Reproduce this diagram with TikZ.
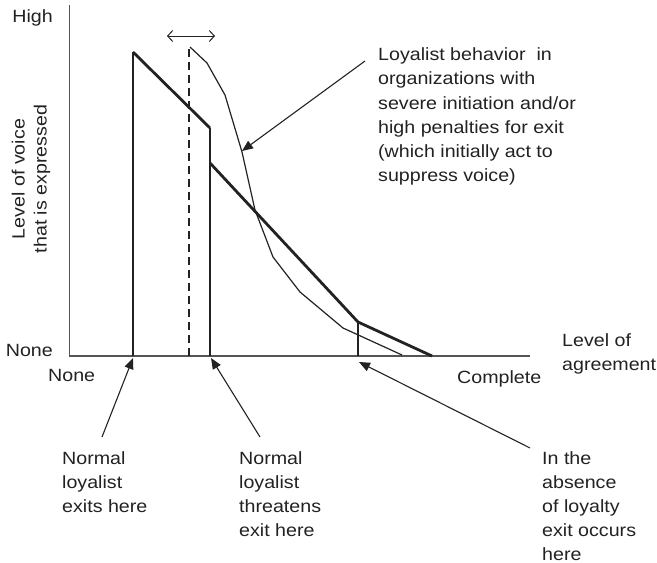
\documentclass[tikz,border=0pt]{standalone}
\usepackage{fontspec}
\setmainfont[FakeStretch=1.11]{Liberation Sans}
\usetikzlibrary{arrows.meta}
\definecolor{ink}{HTML}{222222}
\definecolor{axisgray}{HTML}{555555}
\begin{document}
\begin{tikzpicture}[x=1pt,y=-1pt,
  lbl/.style={font=\fontsize{17.7}{24.1}\selectfont, text=ink, inner sep=0pt, align=left},
  axisline/.style={draw=axisgray, line width=1.5pt},
  thickline/.style={draw=ink, line width=2.8pt, line join=miter},
  vline/.style={draw=ink, line width=2pt},
  thinline/.style={draw=ink, line width=1.2pt, line join=round},
  pointer/.style={draw=ink, line width=1.1pt, -{Triangle[length=11pt,width=9pt]}},
  dashline/.style={draw=ink, line width=1.8pt, dash pattern=on 8pt off 5pt},
  span/.style={draw=ink, line width=1pt, {Straight Barb[length=5pt,width=11pt]}-{Straight Barb[length=5pt,width=11pt]}},
]
\useasboundingbox (0,0) rectangle (657,563);

% axes
\coordinate (O) at (69.5,356);
\coordinate (Ytop) at (69.5,5);
\coordinate (Xend) at (530,356);
\draw[axisline] (Ytop) -- (O) -- (Xend);

% normal loyalist line
\coordinate (A0) at (133,356);
\coordinate (A) at (133,52);
\coordinate (B) at (210,128);
\coordinate (B0) at (210,356);
\coordinate (C) at (210,163);
\coordinate (D) at (358,322);
\coordinate (D0) at (358,356);
\coordinate (E) at (432,356);
\draw[vline] (A0) -- (A);
\draw[thickline] (A) -- (B);
\draw[vline] (B) -- (B0);
\draw[thickline] (C) -- (D) -- (E);
\draw[thinline, line width=1.6pt] (D) -- (D0);

% dashed line and span arrow
\coordinate (F0) at (189,356);
\coordinate (F) at (189,46);
\draw[dashline] (F0) -- (F);
\coordinate (SL) at (167,36);
\coordinate (SR) at (215,36);
\draw[span] (SL) -- (SR);

% severe-initiation curve
\coordinate (c1) at (190,47);
\coordinate (c2) at (207,63);
\coordinate (c3) at (225,95);
\coordinate (c4) at (242,152);
\coordinate (c5) at (255,210);
\coordinate (c6) at (273,257);
\coordinate (c7) at (300,292);
\coordinate (c8) at (343,328);
\coordinate (c9) at (402,355);
\draw[thinline] (c1) -- (c2) -- (c3) -- (c4) -- (c5) -- (c6) -- (c7) -- (c8) -- (c9);

% labels
\node[lbl, anchor=base east] (high) at (53,22.7) {High};
\node[lbl, anchor=base east] (noneY) at (53,356) {None};
\node[lbl, anchor=base west] (noneX) at (48,381) {None};
\node[lbl, anchor=base west] (complete) at (457,383) {Complete};
\node[lbl, anchor=north west] (agree) at (562,333.5) {Level of\\agreement};
\node[lbl, rotate=90, align=center, font=\fontsize{17.7}{22}\selectfont] (ylab) at (31,179) {Level of voice\\that is expressed};

\node[lbl, anchor=north west] (loyal) at (378,47.8) {Loyalist behavior\ \ in\\organizations with\\severe initiation and/or\\high penalties for exit\\(which initially act to\\suppress voice)};
\node[lbl, anchor=north west] (exits) at (62,451.3) {Normal\\loyalist\\exits here};
\node[lbl, anchor=north west] (threat) at (239,451.3) {Normal\\loyalist\\threatens\\exit here};
\node[lbl, anchor=north west] (absence) at (542,451.3) {In the\\absence\\of loyalty\\exit occurs\\here};

% pointers
\coordinate (p1s) at (102,437);
\coordinate (p1t) at (133,358);
\coordinate (p2s) at (260,437);
\coordinate (p2t) at (211,358);
\coordinate (p3s) at (530,448);
\coordinate (p3t) at (359,362);
\coordinate (p4s) at (365,61);
\coordinate (p4t) at (242,151);
\draw[pointer] (p1s) -- (p1t);
\draw[pointer] (p2s) -- (p2t);
\draw[pointer] (p3s) -- (p3t);
\draw[pointer] (p4s) -- (p4t);
\end{tikzpicture}
\end{document}
